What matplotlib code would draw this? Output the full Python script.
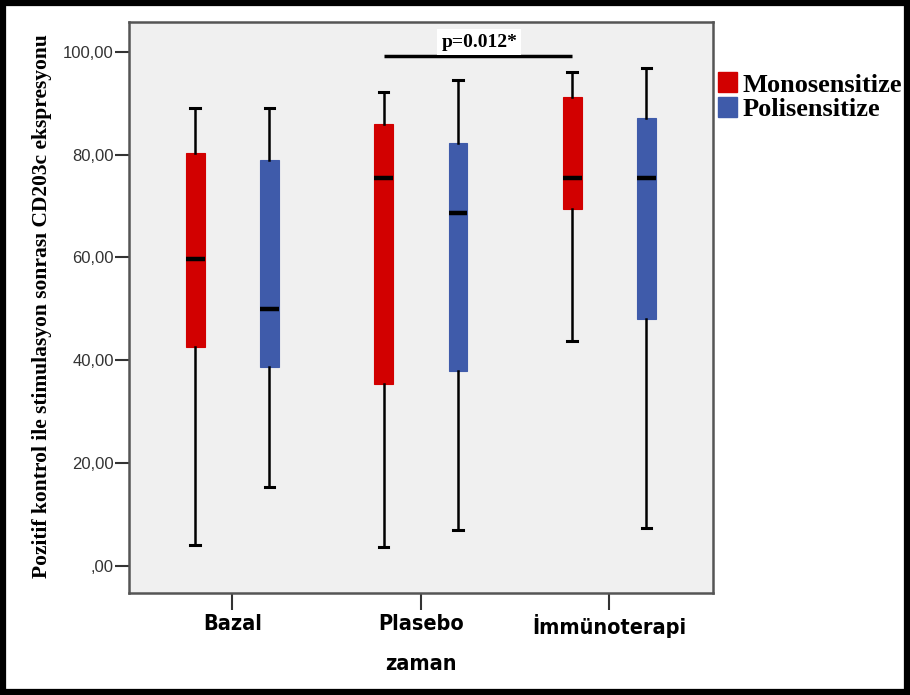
import matplotlib
matplotlib.use("Agg")
import matplotlib.pyplot as plt
from matplotlib.patches import Patch, Rectangle

# data
groups = ["Bazal", "Plasebo", "İmmünoterapi"]
series = ["Monosensitize", "Polisensitize"]
colors = ["#D20000", "#3F5BAA"]

# per series: one value per group
whis_lo = [[4.1, 3.7, 43.8], [15.3, 7.0, 7.4]]
q1 = [[42.6, 35.4, 69.5], [38.7, 37.9, 48.1]]
med = [[59.7, 75.4, 75.5], [50.0, 68.6, 75.4]]
q3 = [[80.3, 86.0, 91.2], [79.0, 82.3, 87.2]]
whis_hi = [[89.1, 92.2, 96.1], [89.1, 94.6, 96.9]]

yticks = [0, 20, 40, 60, 80, 100]
ytick_labels = [",00", "20,00", "40,00", "60,00", "80,00", "100,00"]

sig_text = "p=0.012*"
sig_y = 99.2

W, H = 910, 695
fig = plt.figure(figsize=(W / 100, H / 100), dpi=100)
fig.patch.set_facecolor("white")
fig.patches.append(Rectangle((0.003, 0.004), 0.994, 0.992, transform=fig.transFigure,
                             fill=False, edgecolor="black", linewidth=4.5))

ax = fig.add_axes([129 / W, (H - 593) / H, 584 / W, 571 / H])
ax.set_facecolor("#F0F0F0")

offset = 0.197
for s in range(len(series)):
    stats = []
    for g in range(len(groups)):
        stats.append(dict(whislo=whis_lo[s][g], q1=q1[s][g], med=med[s][g],
                          q3=q3[s][g], whishi=whis_hi[s][g], fliers=[]))
    pos = [g + (offset if s else -offset) for g in range(len(groups))]
    ax.bxp(stats, positions=pos, widths=0.1, capwidths=0.05, patch_artist=True,
           showfliers=False, manage_ticks=False,
           boxprops=dict(facecolor=colors[s], edgecolor=colors[s], linewidth=0.8),
           medianprops=dict(color="black", linewidth=3.2, solid_capstyle="butt"),
           whiskerprops=dict(color="black", linewidth=1.8),
           capprops=dict(color="black", linewidth=2.2))

narrow = dict(family="DejaVu Sans", fontstretch="condensed", fontweight="bold", fontsize=15.5)

ax.set_xlim(-0.548, 2.55)
ax.set_ylim(-5.3, 105.8)
ax.set_xticks(range(len(groups)))
ax.set_xticklabels(groups, **narrow)
ax.set_yticks(yticks)
ax.set_yticklabels(ytick_labels, family="Liberation Sans", fontsize=12, color="#333333")
ax.tick_params(axis="y", length=10, width=1.5, color="#333333", pad=1)
ax.tick_params(axis="x", length=12, width=1.5, color="#333333", pad=3)
for sp in ax.spines.values():
    sp.set_color("#555555")
    sp.set_linewidth(1.8)

ax.set_xlabel("zaman", labelpad=12, **narrow)
fig.text(42 / W, 0.56, "Pozitif kontrol ile stimulasyon sonrası CD203c ekspresyonu",
         rotation=90, ha="center", va="center", family="Liberation Serif",
         fontweight="bold", fontsize=15.5)

# significance bar
ax.plot([-offset + 1, -offset + 2], [sig_y, sig_y], color="black", linewidth=2.5,
        solid_capstyle="butt")
ax.text(1.31, 101.9, sig_text, ha="center", va="center", family="Liberation Serif",
        fontweight="bold", fontsize=14, clip_on=False, zorder=5,
        bbox=dict(facecolor="white", edgecolor="none", pad=3))

handles = [Patch(facecolor=c, edgecolor=c) for c in colors]
ax.legend(handles, series, loc="upper left", bbox_to_anchor=(1.008, 0.912), frameon=False,
          borderaxespad=0, borderpad=0, handlelength=0.75, handleheight=0.8,
          handletextpad=0.2, labelspacing=0.0,
          prop=dict(family="Liberation Serif", weight="bold", size=19))

fig.savefig("out.png", dpi=100)
